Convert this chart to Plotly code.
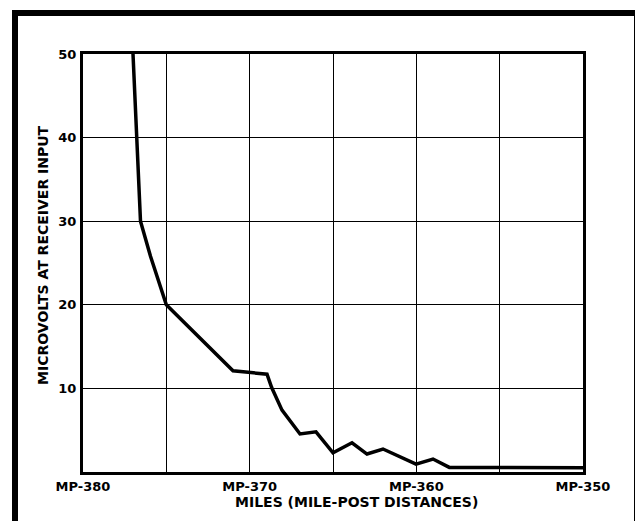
import plotly.graph_objects as go

# Data (mile-post position, microvolts)
mile_post = [377.0, 376.55, 375.95, 375.0, 371.0, 368.96, 368.68, 368.06, 366.98,
             366.02, 365.0, 363.86, 362.96, 362.0, 360.02, 359.0, 358.02, 350.0]
microvolts = [50, 30, 25.8, 20, 12.1, 11.7, 10.1, 7.4, 4.55,
              4.8, 2.3, 3.5, 2.15, 2.75, 0.95, 1.55, 0.55, 0.5]

x_tick_vals = [380, 370, 360, 350]
x_tick_text = ["MP-380", "MP-370", "MP-360", "MP-350"]
x_minor_grid = [375, 365, 355]
y_tick_vals = [10, 20, 30, 40, 50]
y_tick_text = ["10", "20", "30", "40", "50"]

FONT = "DejaVu Sans"

fig = go.Figure()
fig.add_trace(go.Scatter(
    x=mile_post, y=microvolts, mode="lines",
    line=dict(color="black", width=3.5),
    showlegend=False, hoverinfo="skip"))

fig.update_layout(
    width=643, height=521,
    margin=dict(l=75, r=68, t=46, b=57),
    paper_bgcolor="white", plot_bgcolor="white",
    font=dict(family=FONT, color="black", size=13, weight="bold"),
    xaxis=dict(
        range=[380, 350], tickvals=x_tick_vals, ticktext=x_tick_text,
        showgrid=True, gridcolor="black", gridwidth=1.3,
        minor=dict(tickvals=x_minor_grid, showgrid=True, gridcolor="black", gridwidth=1.3, ticks=""),
        showline=True, linecolor="black", linewidth=3, mirror=True,
        ticks="", zeroline=False, automargin=False,
        tickfont=dict(family=FONT, size=13, weight="bold"),
    ),
    yaxis=dict(
        range=[0, 50], tickvals=y_tick_vals, ticktext=y_tick_text,
        showgrid=True, gridcolor="black", gridwidth=1.3,
        showline=True, linecolor="black", linewidth=3, mirror=True,
        ticks="", zeroline=False, ticklabelstandoff=1, automargin=False,
        tickfont=dict(family=FONT, size=13, weight="bold"),
    ),
    annotations=[
        dict(text="MILES (MILE-POST DISTANCES)", xref="paper", yref="paper",
             x=0.546, y=-0.072, showarrow=False, xanchor="center", yanchor="middle",
             font=dict(family=FONT, size=14, weight="bold")),
        dict(text="MICROVOLTS AT RECEIVER INPUT", xref="paper", yref="paper",
             x=-0.08, y=0.517, showarrow=False, xanchor="center", yanchor="middle",
             textangle=-90, font=dict(family=FONT, size=14, weight="bold")),
    ],
    shapes=[dict(type="rect", xref="paper", yref="paper",
                 x0=-0.136, x1=1.108, y0=-0.15, y1=1.098,
                 line=dict(color="black", width=6), layer="above")],
)

fig.write_html("out.html")
